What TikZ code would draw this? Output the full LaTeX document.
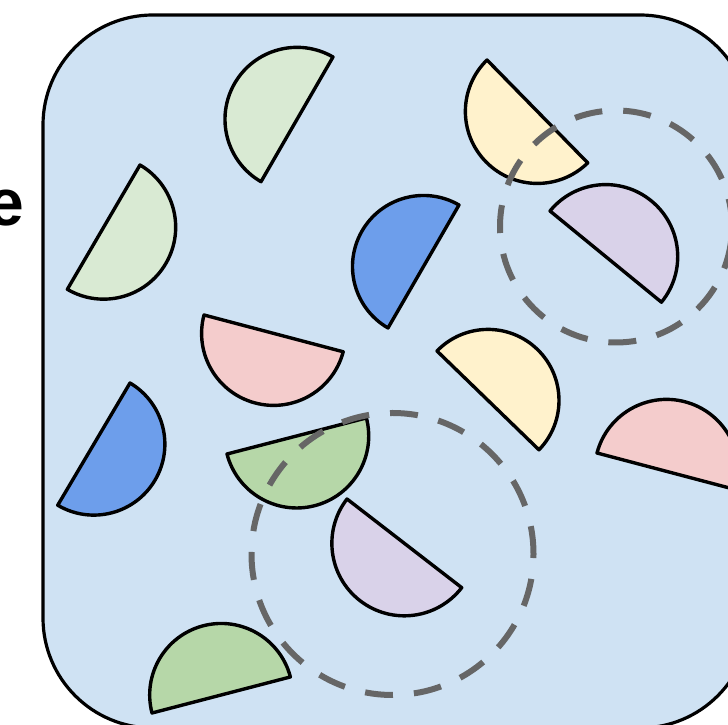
\documentclass[tikz,border=0pt]{standalone}
\usepackage{fontspec}
\setmainfont{Liberation Sans}
\definecolor{panelbg}{HTML}{CFE2F3}
\definecolor{lgreen}{HTML}{D9EAD3}
\definecolor{dgreen}{HTML}{B6D7A8}
\definecolor{cblue}{HTML}{6D9EEB}
\definecolor{cpink}{HTML}{F4CCCC}
\definecolor{cyellow}{HTML}{FFF2CC}
\definecolor{cpurple}{HTML}{D9D2E9}
\definecolor{ringgray}{HTML}{666666}
\tikzset{
  panel/.style={draw=black, line width=3.2pt, fill=panelbg, rounded corners=110pt},
  halfdisc/.style={draw=black, line width=3.4pt, line join=round},
  ring/.style={draw=ringgray, line width=6pt, dash pattern=on 28pt off 21pt},
  bigword/.style={font=\bfseries\fontsize{66}{70}\selectfont, inner sep=0pt}
}
\begin{document}
\begin{tikzpicture}[x=1pt, y=1pt]
  \useasboundingbox (0,0) rectangle (728,725);

  % word fragment at the left
  \node[bigword, anchor=base east] (word) at (24,499) {e};

  % container
  \draw[panel] (43,710) rectangle (750,-3);

  % half discs: start at one end of the diameter, sweep 180 degrees, close
  \draw[halfdisc, fill=lgreen]  (333,668) arc[start angle=60,    delta angle=180,  radius=72pt] -- cycle;
  \draw[halfdisc, fill=lgreen]  (140,560) arc[start angle=59.7,  delta angle=-180, radius=72pt] -- cycle;
  \draw[halfdisc, fill=cblue]   (130,342) arc[start angle=59.4,  delta angle=-180, radius=71pt] -- cycle;
  \draw[halfdisc, fill=cblue]   (459,520) arc[start angle=60,    delta angle=180,  radius=71pt] -- cycle;
  \draw[halfdisc, fill=cpink]   (204,410) arc[start angle=165.2, delta angle=180,  radius=72pt] -- cycle;
  \draw[halfdisc, fill=dgreen]  (227,271) arc[start angle=194.5, delta angle=180,  radius=72pt] -- cycle;
  \draw[halfdisc, fill=dgreen]  (152,12)  arc[start angle=194.6, delta angle=-180, radius=71.5pt] -- cycle;
  \draw[halfdisc, fill=cyellow] (487,665) arc[start angle=134.4, delta angle=180,  radius=72pt] -- cycle;
  \draw[halfdisc, fill=cpurple] (550,514) arc[start angle=140.7, delta angle=-180, radius=72pt] -- cycle;
  \draw[halfdisc, fill=cyellow] (437,374) arc[start angle=135.9, delta angle=-180, radius=71pt] -- cycle;
  \draw[halfdisc, fill=cpurple] (347,226) arc[start angle=142.3, delta angle=180,  radius=72.5pt] -- cycle;
  \draw[halfdisc, fill=cpink]   (597,272) arc[start angle=165.2, delta angle=-180, radius=72pt] -- cycle;

  % dashed rings
  \draw[ring] (616,498.5) circle[radius=116pt];
  \draw[ring] (392.5,171) circle[radius=141pt];
\end{tikzpicture}
\end{document}
